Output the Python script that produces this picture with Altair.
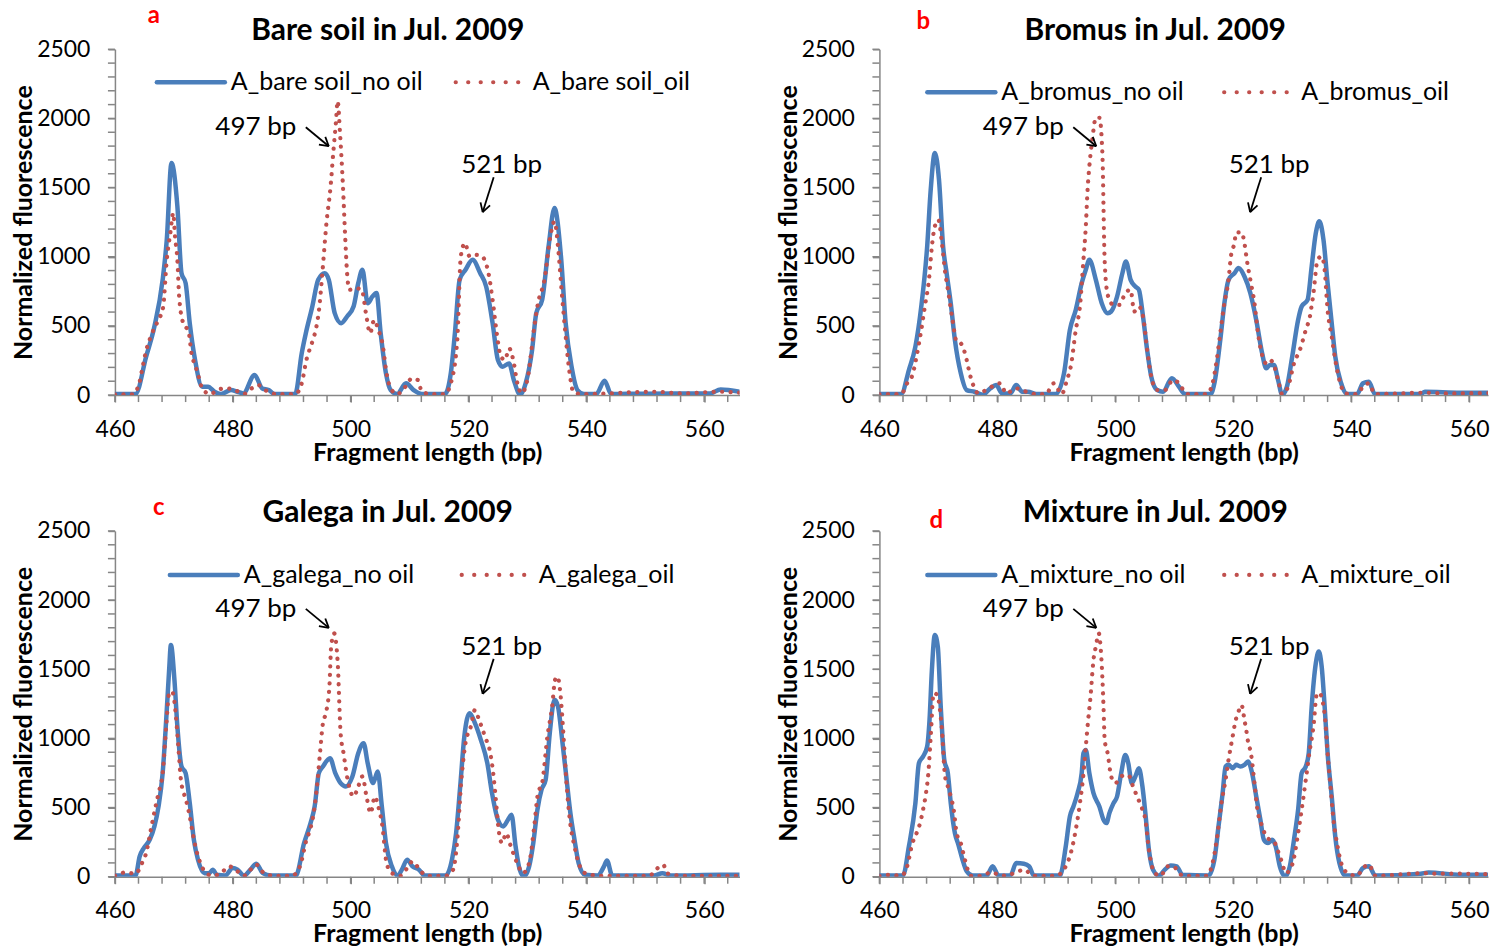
import math

import altair as alt
import pandas as pd

# ---------------------------------------------------------------------------
# Fragment-length profiles (bp vs normalized fluorescence), July 2009
# ---------------------------------------------------------------------------

# a) bare soil
BARE_NOOIL_BP = [460.0, 463.5, 465.3, 466.7, 468.1, 468.8, 469.6, 470.6, 471.3, 472.0, 472.7, 473.6,
                 474.8, 475.8, 476.9, 478.0, 479.7, 480.8, 481.8, 483.7, 485.0, 486.1, 487.1, 490.6,
                 491.7, 492.4, 493.5, 494.5, 495.6, 496.3, 497.3, 498.4, 499.4, 500.5, 501.3, 502.0,
                 502.9, 503.7, 504.4, 505.1, 506.0, 506.8, 507.9, 509.4, 510.7, 512.1, 516.0, 517.0,
                 517.7, 518.5, 519.5, 520.7, 522.0, 523.0, 524.1, 525.0, 525.8, 526.9, 527.7, 528.8,
                 529.7, 530.8, 531.5, 532.5, 533.6, 534.6, 535.7, 536.5, 537.5, 538.5, 539.6, 541.7,
                 543.1, 544.2, 550.0, 556.0, 561.0, 562.8, 566.0]
BARE_NOOIL_FL = [8, 8, 278, 495, 833, 1123, 1678, 1364, 881, 809, 519, 254,
                 60, 60, 24, 8, 36, 24, 12, 145, 48, 36, 8, 8,
                 302, 447, 640, 833, 881, 833, 592, 519, 568, 640, 809, 906,
                 664, 712, 737, 447, 157, 36, 8, 85, 36, 8, 8, 157,
                 447, 833, 906, 978, 881, 785, 519, 254, 205, 229, 109, 2,
                 85, 326, 592, 688, 1075, 1352, 1002, 519, 205, 36, 8, 8,
                 104, 8, 10, 12, 12, 41, 24]
BARE_OIL_BP = [460.0, 463.0, 464.2, 464.6, 465.4, 466.1, 466.8, 467.7, 468.2, 468.8, 469.4, 469.9,
               470.2, 470.6, 470.9, 471.6, 472.5, 473.0, 473.7, 474.3, 474.8, 476.2, 477.6, 479.0,
               480.4, 481.8, 483.2, 484.3, 485.7, 487.5, 490.6, 491.7, 492.5, 493.5, 494.2, 494.7,
               495.2, 495.9, 496.6, 497.1, 497.5, 497.8, 498.2, 498.7, 499.1, 499.4, 499.8, 500.8,
               501.9, 502.6, 503.3, 504.0, 504.7, 505.4, 506.1, 506.8, 507.9, 509.3, 510.4, 511.4,
               512.1, 513.9, 516.0, 517.0, 518.1, 518.7, 519.4, 520.2, 521.3, 522.3, 523.4, 524.1,
               524.8, 525.5, 526.2, 526.9, 527.6, 528.3, 529.0, 530.1, 531.1, 531.8, 532.9, 533.9,
               534.6, 535.3, 535.8, 536.4, 537.1, 537.8, 539.2, 551.9, 556.1, 562.5, 566.0]
BARE_OIL_FL = [5, 5, 97, 181, 338, 423, 495, 568, 640, 978, 1171, 1316,
               1147, 978, 712, 519, 459, 302, 205, 121, 48, 7, 41, 48,
               36, 7, 48, 72, 31, 7, 7, 85, 254, 386, 495, 640,
               881, 1244, 1509, 1775, 1968, 2125, 1896, 1509, 1123, 881, 761, 773,
               761, 592, 447, 543, 471, 374, 157, 48, 7, 60, 121, 109,
               24, 7, 7, 85, 398, 1002, 1099, 1002, 1014, 1002, 881, 688,
               447, 278, 254, 338, 254, 85, 12, 133, 471, 664, 833, 1147,
               1256, 1026, 761, 471, 181, 24, 7, 24, 12, 24, 17]

# b) Bromus
BROMUS_NOOIL_BP = [460.0, 463.7, 465.0, 466.1, 467.1, 468.1, 468.7, 469.4, 470.1, 470.8, 471.4, 472.1,
                   472.8, 473.8, 474.8, 476.1, 477.5, 478.8, 479.8, 480.8, 482.2, 483.2, 484.2, 485.2,
                   486.6, 489.9, 491.3, 492.3, 493.3, 494.3, 495.0, 495.6, 496.7, 497.7, 498.7, 499.3,
                   500.3, 501.2, 501.8, 502.6, 503.4, 504.0, 504.7, 505.4, 506.1, 507.1, 508.1, 509.6,
                   510.8, 511.8, 516.2, 516.8, 517.8, 518.5, 519.2, 520.2, 520.9, 521.9, 522.9, 523.9,
                   524.9, 525.6, 526.2, 526.9, 527.6, 528.3, 529.1, 530.0, 531.0, 531.6, 532.6, 533.3,
                   534.0, 534.6, 535.3, 536.0, 536.7, 537.3, 538.3, 539.3, 541.0, 542.0, 543.0, 544.0,
                   551.8, 552.5, 558.5, 566.0]
BROMUS_NOOIL_FL = [8, 8, 181, 350, 640, 1075, 1485, 1751, 1558, 1075, 881, 664,
                   398, 157, 36, 24, 2, 48, 72, 12, 12, 72, 24, 24,
                   8, 8, 157, 471, 616, 809, 906, 978, 833, 664, 592, 604,
                   712, 881, 966, 833, 785, 761, 568, 326, 133, 36, 24, 121,
                   60, 8, 8, 85, 398, 664, 833, 881, 918, 857, 737, 543,
                   302, 193, 217, 217, 109, 2, 60, 278, 543, 640, 688, 930,
                   1171, 1256, 1123, 809, 519, 278, 85, 8, 8, 85, 97, 8,
                   8, 24, 17, 17]
BROMUS_OIL_BP = [460.0, 463.7, 464.7, 465.6, 466.4, 467.1, 467.7, 468.4, 468.9, 469.4, 470.0, 470.6,
                 471.1, 471.8, 472.4, 473.1, 473.8, 474.8, 475.3, 475.8, 476.8, 478.5, 480.5, 481.5,
                 483.2, 484.9, 486.6, 488.2, 489.6, 490.9, 491.8, 492.5, 493.3, 494.0, 494.6, 495.0,
                 495.3, 495.6, 496.1, 496.7, 497.3, 497.7, 497.9, 498.0, 498.1, 498.3, 498.8, 499.7,
                 500.7, 501.7, 502.6, 503.2, 504.0, 504.7, 505.4, 506.1, 507.1, 508.4, 509.8, 510.8,
                 512.1, 515.5, 516.5, 517.2, 517.8, 518.5, 519.2, 519.6, 520.2, 520.5, 521.4, 521.9,
                 522.3, 522.9, 523.6, 524.2, 524.9, 525.6, 526.2, 526.9, 527.6, 528.3, 529.3, 530.3,
                 531.3, 532.3, 533.0, 533.6, 534.3, 535.0, 535.5, 536.0, 536.7, 537.3, 538.0, 539.0,
                 541.0, 542.0, 543.0, 544.0, 552.5, 555.8, 566.0]
BROMUS_OIL_FL = [7, 7, 85, 145, 302, 471, 640, 833, 1075, 1220, 1268, 1099,
                 906, 712, 543, 386, 374, 254, 157, 85, 12, 48, 85, 12,
                 48, 24, 7, 7, 85, 7, 109, 217, 471, 640, 978, 1220,
                 1485, 1654, 1847, 2005, 2005, 1847, 1606, 1364, 1123, 881, 712, 652,
                 652, 737, 761, 604, 640, 568, 326, 133, 36, 36, 109, 85,
                 7, 7, 85, 254, 447, 664, 833, 1002, 1099, 1176, 1176, 1099,
                 978, 833, 664, 447, 290, 229, 254, 217, 109, 7, 60, 229,
                 326, 471, 568, 737, 978, 1002, 906, 616, 423, 254, 109, 12,
                 7, 60, 85, 7, 17, 12, 17]

# c) Galega
GALEGA_NOOIL_BP = [460.0, 463.5, 464.2, 464.9, 465.9, 466.7, 467.4, 468.1, 468.7, 469.2, 469.5, 470.1,
                   470.6, 471.3, 472.0, 472.7, 473.4, 474.1, 475.2, 476.0, 476.6, 477.3, 478.7, 480.0,
                   480.8, 481.9, 483.0, 484.0, 485.1, 486.5, 490.7, 492.1, 493.2, 493.9, 494.6, 495.3,
                   496.5, 497.4, 498.3, 499.2, 500.3, 501.3, 502.2, 502.9, 503.8, 504.6, 505.3, 506.0,
                   507.0, 508.0, 508.7, 509.6, 510.5, 511.6, 512.6, 516.1, 517.2, 517.9, 518.6, 519.3,
                   520.2, 521.1, 522.1, 523.2, 524.0, 525.0, 525.9, 526.7, 527.3, 528.0, 528.7, 529.4,
                   530.3, 531.0, 531.7, 532.4, 533.1, 533.8, 534.6, 535.2, 535.9, 536.6, 537.3, 538.0,
                   538.7, 539.8, 541.9, 543.0, 543.5, 544.4, 551.5, 552.9, 554.3, 562.8, 566.0]
GALEGA_NOOIL_FL = [8, 8, 147, 207, 267, 364, 508, 749, 1134, 1495, 1676, 1423,
                   1086, 797, 749, 532, 267, 123, 26, 26, 51, 14, 8, 63,
                   51, 8, 51, 94, 26, 8, 8, 243, 388, 508, 749, 797,
                   857, 749, 677, 653, 725, 893, 966, 821, 677, 761, 508, 243,
                   75, 8, 51, 123, 75, 51, 8, 8, 123, 315, 653, 1014,
                   1182, 1110, 990, 821, 604, 412, 364, 412, 448, 219, 51, 2,
                   75, 243, 484, 629, 701, 1038, 1279, 1230, 990, 725, 460, 267,
                   99, 14, 8, 75, 118, 8, 8, 26, 8, 14, 14]
GALEGA_OIL_BP = [460.0, 461.8, 463.5, 464.6, 465.3, 466.1, 466.9, 467.4, 468.1, 468.7, 469.2, 469.7,
                 470.1, 470.5, 470.8, 471.2, 471.7, 472.2, 472.7, 473.2, 473.8, 474.5, 475.5, 476.6,
                 478.0, 479.4, 480.8, 481.9, 483.0, 484.0, 485.4, 487.2, 490.0, 491.4, 492.5, 493.2,
                 493.9, 494.4, 494.8, 495.3, 495.8, 496.4, 496.7, 497.2, 497.6, 497.9, 498.1, 498.3,
                 498.8, 499.5, 500.5, 501.3, 502.0, 502.7, 503.4, 504.1, 504.7, 505.4, 506.1, 507.0,
                 508.4, 509.6, 510.5, 511.9, 513.0, 516.1, 517.4, 518.1, 518.8, 519.5, 520.4, 521.1,
                 521.8, 522.9, 523.6, 524.2, 524.6, 525.2, 525.7, 526.4, 527.1, 527.8, 528.5, 529.2,
                 530.3, 531.1, 531.8, 532.5, 533.4, 534.2, 534.7, 535.1, 535.6, 536.1, 536.6, 537.2,
                 538.0, 538.7, 539.8, 542.3, 550.7, 551.8, 553.0, 553.9, 556.4, 566.0]
GALEGA_OIL_FL = [7, 31, 22, 99, 171, 340, 508, 604, 749, 1086, 1327, 1339,
                 1267, 1086, 917, 701, 604, 532, 436, 315, 195, 99, 26, 7,
                 26, 75, 39, 7, 51, 87, 22, 7, 7, 75, 267, 352,
                 508, 701, 893, 1110, 1182, 1375, 1664, 1760, 1664, 1471, 1230, 1038,
                 893, 701, 580, 653, 725, 580, 460, 580, 508, 364, 99, 26,
                 7, 63, 111, 39, 7, 7, 51, 267, 701, 966, 1086, 1206,
                 1134, 1002, 917, 749, 580, 315, 243, 315, 231, 147, 75, 26,
                 99, 340, 604, 677, 1014, 1230, 1423, 1447, 1327, 1038, 701, 412,
                 219, 99, 26, 7, 7, 51, 87, 22, 7, 7]

# d) mixture
MIXTURE_NOOIL_BP = [460.0, 464.0, 465.0, 466.1, 466.7, 467.4, 468.1, 468.5, 468.9, 469.4, 469.9, 470.4,
                    471.0, 471.6, 472.1, 472.8, 473.4, 474.1, 474.8, 475.8, 478.2, 479.2, 480.2, 482.2,
                    483.2, 484.5, 485.4, 486.2, 490.6, 491.6, 492.3, 492.9, 493.6, 494.3, 494.6, 495.0,
                    495.6, 496.3, 497.3, 498.0, 498.5, 499.0, 499.7, 500.3, 501.0, 501.7, 502.2, 502.8,
                    503.4, 504.0, 504.6, 505.1, 505.7, 506.4, 507.4, 508.4, 509.4, 510.4, 511.4, 515.8,
                    516.8, 517.5, 518.2, 518.7, 519.2, 519.9, 520.5, 521.2, 521.9, 522.5, 523.2, 523.9,
                    524.6, 525.2, 525.9, 526.6, 527.2, 527.9, 528.8, 529.6, 530.3, 531.0, 531.6, 532.3,
                    532.8, 533.3, 534.0, 534.5, 535.0, 535.5, 536.0, 536.7, 537.3, 538.0, 539.0, 541.0,
                    542.0, 543.0, 544.1, 551.8, 553.1, 558.5, 566.0]
MIXTURE_NOOIL_FL = [8, 8, 219, 532, 821, 869, 942, 1134, 1495, 1748, 1664, 1230,
                    845, 749, 532, 315, 231, 123, 39, 8, 8, 75, 8, 8,
                    99, 94, 75, 8, 8, 219, 436, 508, 604, 749, 893, 917,
                    749, 604, 508, 412, 388, 460, 532, 580, 749, 881, 821, 677,
                    725, 785, 653, 460, 195, 51, 8, 51, 82, 75, 14, 8,
                    123, 364, 604, 797, 809, 785, 809, 797, 809, 833, 749, 580,
                    412, 267, 243, 267, 219, 75, 2, 75, 267, 484, 749, 797,
                    893, 1230, 1543, 1628, 1519, 1230, 893, 580, 291, 99, 8, 8,
                    63, 75, 8, 22, 31, 14, 14]
MIXTURE_OIL_BP = [460.0, 461.7, 463.7, 464.7, 465.6, 466.3, 466.9, 467.4, 467.9, 468.3, 468.7, 469.2,
                  469.8, 470.2, 470.6, 471.1, 471.6, 472.1, 472.6, 473.1, 473.8, 474.5, 475.5, 477.1,
                  479.0, 480.8, 482.9, 484.5, 486.2, 489.9, 491.6, 492.6, 493.3, 494.0, 494.5, 495.0,
                  495.4, 495.8, 496.3, 496.7, 497.2, 497.5, 497.8, 498.0, 498.2, 498.7, 499.3, 500.0,
                  501.0, 501.7, 502.4, 503.0, 503.7, 504.4, 505.1, 505.7, 506.7, 507.7, 508.8, 509.8,
                  510.8, 511.4, 515.5, 516.5, 517.2, 518.0, 518.7, 519.2, 519.9, 520.3, 521.0, 521.4,
                  521.9, 522.2, 522.5, 523.0, 523.6, 524.1, 524.8, 525.6, 526.2, 526.9, 527.6, 528.3,
                  528.9, 530.0, 531.0, 531.6, 532.3, 532.9, 533.6, 534.2, 534.6, 535.1, 535.6, 536.0,
                  536.5, 537.0, 537.7, 538.3, 539.4, 541.0, 542.0, 543.0, 544.1, 552.5, 554.5, 557.8,
                  566.0]
MIXTURE_OIL_FL = [7, 14, 7, 75, 243, 315, 388, 484, 604, 749, 1014, 1327,
                  1315, 1230, 1062, 737, 653, 580, 484, 315, 243, 123, 7, 7,
                  31, 7, 26, 51, 7, 7, 75, 195, 340, 532, 701, 942,
                  1134, 1303, 1568, 1664, 1760, 1664, 1447, 1230, 990, 893, 725, 677,
                  725, 737, 725, 653, 580, 508, 412, 195, 26, 7, 75, 75,
                  31, 7, 7, 99, 267, 532, 701, 845, 1014, 1110, 1206, 1242,
                  1134, 1062, 978, 893, 677, 484, 376, 291, 267, 255, 183, 99,
                  26, 87, 315, 484, 701, 893, 1086, 1327, 1327, 1279, 1134, 893,
                  653, 412, 219, 99, 26, 7, 63, 87, 7, 26, 22, 22,
                  14]

PANEL_TITLES = ["Bare soil in Jul. 2009", "Bromus in Jul. 2009",
                "Galega in Jul. 2009", "Mixture in Jul. 2009"]
PANEL_LETTERS = ["a", "b", "c", "d"]
SERIES_NAMES = [("A_bare soil_no oil", "A_bare soil_oil"),
                ("A_bromus_no oil", "A_bromus_oil"),
                ("A_galega_no oil", "A_galega_oil"),
                ("A_mixture_no oil", "A_mixture_oil")]
PEAK_LABELS = ["497 bp", "521 bp"]

BLUE = "#4A7EBB"
RED = "#C0504D"
GREY = "#868686"
FONT = "Lato"
PX_PER_BP = 5.9
PLOT_H = 346


def one_row():
    return alt.Data(values=[{"k": 0}])


def txt(s, x, y, size, color="black", weight="normal", align="left"):
    return alt.Chart(one_row()).mark_text(
        text=s, font=FONT, fontSize=size, fontWeight=weight, color=color,
        align=align, baseline="middle",
    ).encode(x=alt.value(x), y=alt.value(y))


def seg(x1, y1, x2, y2, color="black", width=1.8):
    return alt.Chart(one_row()).mark_rule(color=color, strokeWidth=width).encode(
        x=alt.value(x1), y=alt.value(y1), x2=alt.value(x2), y2=alt.value(y2))


def arrow(x1, y1, x2, y2, head=10.0):
    ang = math.atan2(y2 - y1, x2 - x1)
    parts = [seg(x1, y1, x2, y2)]
    for d in (math.radians(30), -math.radians(30)):
        hx = x2 - head * math.cos(ang + d)
        hy = y2 - head * math.sin(ang + d)
        parts.append(seg(hx, hy, x2, y2))
    return parts


def panel(i, bp_no, fl_no, bp_oil, fl_oil, x_max, legend, letter_xy, ox=0):
    width = round((x_max - 460) * PX_PER_BP)
    x_scale = alt.Scale(domain=[460, x_max], nice=False, zero=False)
    y_scale = alt.Scale(domain=[0, 2500], nice=False)
    x_axis = alt.Axis(
        values=list(range(460, int(x_max) + 1, 20)), format="d",
        labelFlush=False, labelOverlap=False, grid=False, tickSize=7, labelPadding=16,
        labelFont=FONT, labelFontSize=23, labelColor="black",
        domainColor=GREY, tickColor=GREY, domainWidth=1.5, tickWidth=1.5,
        title="Fragment length (bp)", titleFont=FONT, titleFontSize=25,
        titleFontWeight="bold", titleColor="black", titlePadding=-1,
    )
    y_axis = alt.Axis(
        values=list(range(0, 2501, 500)), format="d",
        labelFlush=False, labelOverlap=False, grid=False, tickSize=7, labelPadding=18,
        labelFont=FONT, labelFontSize=23, labelColor="black",
        domainColor=GREY, tickColor=GREY, domainWidth=1.5, tickWidth=1.5,
        title="Normalized fluorescence", titleFont=FONT, titleFontSize=25,
        titleFontWeight="bold", titleColor="black", titlePadding=0,
    )
    no_oil = alt.Chart(pd.DataFrame({"bp": bp_no, "fluor": fl_no})).mark_line(
        color=BLUE, strokeWidth=4.5, interpolate="monotone", clip=True,
        strokeJoin="round", strokeCap="round",
    ).encode(
        x=alt.X("bp:Q", scale=x_scale, axis=x_axis),
        y=alt.Y("fluor:Q", scale=y_scale, axis=y_axis),
    )
    oil = alt.Chart(pd.DataFrame({"bp": bp_oil, "fluor": fl_oil})).mark_line(
        color=RED, strokeWidth=4.2, strokeDash=[0.1, 8.4], strokeCap="round",
        interpolate="monotone", clip=True,
    ).encode(x="bp:Q", y="fluor:Q")

    # minor tick marks: every 4 bp along x, every 100 units along y
    x_minor = alt.Chart(pd.DataFrame({"bp": list(range(460, int(x_max) + 1, 4))})).mark_rule(
        color=GREY, strokeWidth=1.5).encode(
        x="bp:Q", y=alt.value(PLOT_H), y2=alt.value(PLOT_H + 7))
    y_minor = alt.Chart(pd.DataFrame({"fluor": list(range(0, 2501, 100))})).mark_rule(
        color=GREY, strokeWidth=1.5).encode(
        y="fluor:Q", x=alt.value(-7), x2=alt.value(0))

    name_no, name_oil = SERIES_NAMES[i]
    lx, ly, lred = legend
    lx += ox
    lred += ox
    layers = [no_oil, x_minor, y_minor, oil]
    # legend
    layers.append(alt.Chart(one_row()).mark_rule(color=BLUE, strokeWidth=4.5, strokeCap="round").encode(
        x=alt.value(lx), x2=alt.value(lx + 68), y=alt.value(ly)))
    layers.append(txt(name_no, lx + 74, ly, 25))
    layers.append(alt.Chart(one_row()).mark_rule(
        color=RED, strokeWidth=4.2, strokeDash=[0.1, 12.4], strokeCap="round").encode(
        x=alt.value(lred), x2=alt.value(lred + 64), y=alt.value(ly)))
    layers.append(txt(name_oil, lred + 77, ly, 25))
    # peak call-outs
    layers.append(txt(PEAK_LABELS[0], 141 + ox, 78, 26, align="center"))
    layers += arrow(191 + ox, 78, 214 + ox, 97)
    layers.append(txt(PEAK_LABELS[1], 387 + ox, 116, 26, align="center"))
    layers += arrow(379 + ox, 128, 368 + ox, 163)
    # panel title and letter
    layers.append(txt(PANEL_TITLES[i], 273 + ox, -18, 30, weight="bold", align="center"))
    layers.append(txt(PANEL_LETTERS[i], letter_xy[0] + ox, letter_xy[1], 24,
                      color="#FF0000", weight="bold", align="center"))
    return alt.layer(*layers).properties(width=width, height=PLOT_H)


pa = panel(0, BARE_NOOIL_BP, BARE_NOOIL_FL, BARE_OIL_BP, BARE_OIL_FL, 566, (42, 33, 341), (39, -33))
pb = panel(1, BROMUS_NOOIL_BP, BROMUS_NOOIL_FL, BROMUS_OIL_BP, BROMUS_OIL_FL, 563.2, (45, 43, 342), (41, -27), ox=3)
pc = panel(2, GALEGA_NOOIL_BP, GALEGA_NOOIL_FL, GALEGA_OIL_BP, GALEGA_OIL_FL, 566, (55, 44, 347), (44, -23))
pd_ = panel(3, MIXTURE_NOOIL_BP, MIXTURE_NOOIL_FL, MIXTURE_OIL_BP, MIXTURE_OIL_FL, 563.2, (45, 44, 342), (54, -10), ox=3)

chart = alt.vconcat(
    alt.hconcat(pa, pb, spacing=36),
    alt.hconcat(pc, pd_, spacing=36),
    spacing=31,
).properties(
    padding={"left": 11, "top": 4, "right": 0, "bottom": 0},
    background="white",
).configure_view(stroke=None)

chart.save("out.html", embed_options={"renderer": "svg", "actions": False})
